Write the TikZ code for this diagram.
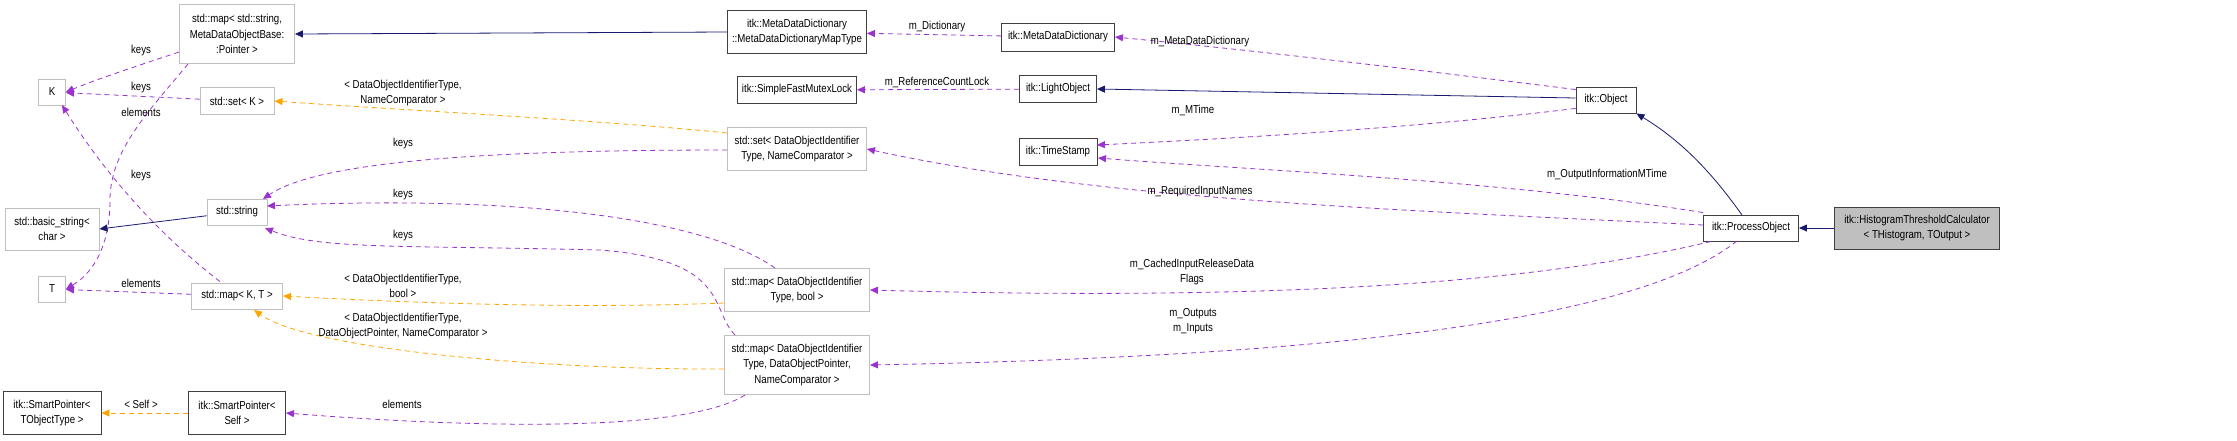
\documentclass[tikz,border=0pt]{standalone}
\usepackage{fontspec}
\setmainfont{Liberation Sans}[FakeStretch=0.84]
\usetikzlibrary{arrows.meta}
\definecolor{pur}{HTML}{9A32CD}
\definecolor{ora}{HTML}{FFA500}
\definecolor{nav}{HTML}{191970}
\newcommand{\lt}{\textless}
\newcommand{\gt}{\textgreater}
\begin{document}
\begin{tikzpicture}[x=1pt,y=-1pt,
  every node/.style={font=\fontsize{11.5}{15.5}\selectfont},
  box/.style={draw=#1,line width=0.9pt,fill=white,inner sep=0pt,align=center,anchor=center},
  sb/.style={box=black!75},
  gb/.style={box=black!25},
  mem/.style={draw=pur,dash pattern=on 5pt off 4pt,line width=0.8pt,-{Triangle[length=8pt,width=7pt,fill=pur]}},
  tpl/.style={draw=ora,dash pattern=on 5pt off 4pt,line width=0.8pt,-{Triangle[length=8pt,width=7pt,fill=ora]}},
  inh/.style={draw=nav,line width=0.8pt,-{Triangle[length=8pt,width=7pt,fill=nav]}},
  lbl/.style={fill=none,draw=none,align=center,inner sep=1pt}]
\useasboundingbox (0,0) rectangle (2237,440);
% nodes
\node[gb,minimum width=115,minimum height=59] (mapstr) at (237,34) {std::map\lt{} std::string,\\MetaDataObjectBase:\\:Pointer \gt};
\node[gb,minimum width=27,minimum height=26] (K) at (52,92) {K};
\node[gb,minimum width=74,minimum height=27] (setK) at (237,101) {std::set\lt{} K \gt};
\node[gb,minimum width=94,minimum height=42] (bstr) at (52,229) {std::basic\_string\lt\\char \gt};
\node[gb,minimum width=60,minimum height=26] (str) at (237,212) {std::string};
\node[gb,minimum width=27,minimum height=26] (T) at (52,289) {T};
\node[gb,minimum width=91,minimum height=26] (mapKT) at (237,296) {std::map\lt{} K, T \gt};
\node[sb,minimum width=98,minimum height=43] (spT) at (52,413) {itk::SmartPointer\lt\\TObjectType \gt};
\node[sb,minimum width=97,minimum height=43] (spS) at (237,413) {itk::SmartPointer\lt\\Self \gt};
\node[sb,minimum width=139,minimum height=43] (mdmt) at (797,32) {itk::MetaDataDictionary\\::MetaDataDictionaryMapType};
\node[sb,minimum width=119,minimum height=27] (mutex) at (797,90) {itk::SimpleFastMutexLock};
\node[gb,minimum width=139,minimum height=43] (setD) at (797,149) {std::set\lt{} DataObjectIdentifier\\Type, NameComparator \gt};
\node[gb,minimum width=145,minimum height=43] (mapDb) at (797,290) {std::map\lt{} DataObjectIdentifier\\Type, bool \gt};
\node[gb,minimum width=145,minimum height=59] (mapDD) at (797,365) {std::map\lt{} DataObjectIdentifier\\Type, DataObjectPointer,\\NameComparator \gt};
\node[sb,minimum width=113,minimum height=28] (mdd) at (1058,37) {itk::MetaDataDictionary};
\node[sb,minimum width=77,minimum height=27] (lo) at (1058,89) {itk::LightObject};
\node[sb,minimum width=78,minimum height=27] (ts) at (1058,152) {itk::TimeStamp};
\node[sb,minimum width=60,minimum height=26] (obj) at (1606,100) {itk::Object};
\node[sb,minimum width=95,minimum height=26] (po) at (1751,228) {itk::ProcessObject};
\node[box=black!75,fill=black!25,minimum width=165,minimum height=42] (htc) at (1917,228) {itk::HistogramThresholdCalculator\\\lt{} THistogram, TOutput \gt};
% edges
\draw[mem] (mapstr.west) ++(0,18) coordinate (a1) (a1) .. controls (140,65) and (100,78) .. (K.east);
\node[lbl] at (141,51) {keys};
\draw[mem] (setK) -- (K);
\node[lbl] at (141,88) {keys};
\draw[mem] (188,64) coordinate (a2) (a2) .. controls (150,110) and (110,150) .. (110,200) .. controls (110,250) and (90,275) .. (T.east);
\node[lbl] at (141,112) {elements};
\draw[mem] (mapKT.north) ++(-17,-1) coordinate (a3) (a3) .. controls (140,220) and (90,150) .. (62,105);
\node[lbl] at (141,176) {keys};
\draw[mem] (mapKT) -- (T);
\node[lbl] at (141,283) {elements};
\draw[inh] (str) -- (bstr.east);
\draw[tpl] (setD.west) ++(0,-16) coordinate (a4) (a4) .. controls (600,120) and (400,110) .. (setK.east);
\node[lbl] at (403,93) {\lt{} DataObjectIdentifierType,\\NameComparator \gt};
\draw[mem] (setD.west) ++(0,1) coordinate (a5) (a5) .. controls (500,150) and (320,160) .. (263,199);
\node[lbl] at (403,144) {keys};
\draw[mem] (775,268) coordinate (a6) (a6) .. controls (700,215) and (500,195) .. (267,206);
\node[lbl] at (403,195) {keys};
\draw[mem] (735,335) coordinate (a7) (a7) .. controls (710,310) and (730,260) .. (600,250) .. controls (400,245) and (320,250) .. (265,228);
\node[lbl] at (403,236) {keys};
\draw[tpl] (mapDb.west) ++(0,13) coordinate (a8) (a8) .. controls (600,308) and (450,305) .. (mapKT.east);
\node[lbl] at (403,286) {\lt{} DataObjectIdentifierType,\\bool \gt};
\draw[tpl] (mapDD.west) ++(0,4) coordinate (a9) (a9) .. controls (550,370) and (310,350) .. (254,310);
\node[lbl] at (403,326) {\lt{} DataObjectIdentifierType,\\DataObjectPointer, NameComparator \gt};
\draw[mem] (745,395) coordinate (a10) (a10) .. controls (690,430) and (500,430) .. (spS.east);
\node[lbl] at (402,404) {elements};
\draw[tpl] (spS) -- (spT);
\node[lbl] at (141,404) {\lt{} Self \gt};
\draw[inh] (mdmt.west) -- (mapstr.east);
\draw[mem] (mdd) -- (mdmt);
\node[lbl] at (937,27) {m\_Dictionary};
\draw[mem] (lo) -- (mutex);
\node[lbl] at (937,82) {m\_ReferenceCountLock};
\draw[mem] (obj.north west) ++(0,3) coordinate (b1) (b1) .. controls (1420,70) and (1250,50) .. (mdd.east);
\node[lbl] at (1200,42) {m\_MetaDataDictionary};
\draw[inh] (obj.west) ++(0,-2) coordinate (b2) (b2) -- (lo.east);
\draw[mem] (obj.south west) ++(0,-5) coordinate (b3) (b3) .. controls (1400,130) and (1200,140) .. (1097,145);
\node[lbl] at (1193,110) {m\_MTime};
\draw[mem] (po.north west) ++(0,-2) coordinate (b4) (b4) .. controls (1500,180) and (1250,170) .. (1098,158);
\node[lbl] at (1607,175) {m\_OutputInformationMTime};
\draw[mem] (po.west) ++(0,-3) coordinate (b5) (b5) .. controls (1400,210) and (1100,200) .. (setD.east);
\node[lbl] at (1200,192) {m\_RequiredInputNames};
\draw[mem] (po.south west) ++(8,0) coordinate (b6) (b6) .. controls (1550,280) and (1300,302) .. (mapDb.east);
\node[lbl] at (1192,272) {m\_CachedInputReleaseData\\Flags};
\draw[mem] (1737,241) coordinate (b7) (b7) .. controls (1650,310) and (1400,355) .. (mapDD.east);
\node[lbl] at (1193,321) {m\_Outputs\\m\_Inputs};
\draw[inh] (1742,215) coordinate (b8) (b8) .. controls (1710,170) and (1680,140) .. (obj.south east);
\draw[inh] (htc) -- (po);
\end{tikzpicture}
\end{document}
